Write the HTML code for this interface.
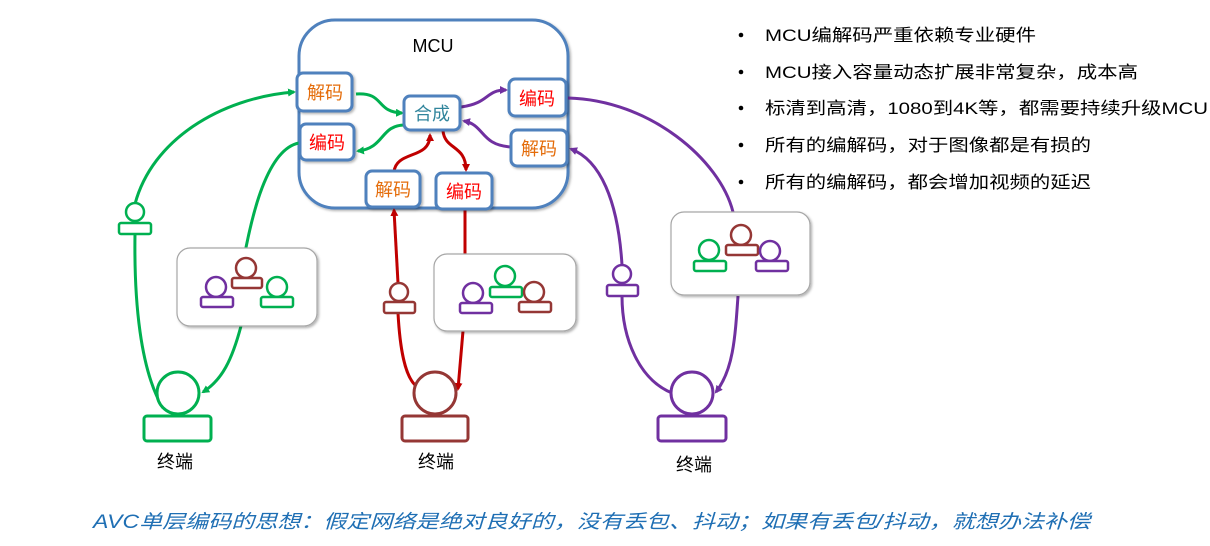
<!DOCTYPE html>
<html><head><meta charset="utf-8"><style>
html,body{margin:0;padding:0;background:#fff;}
svg{display:block;}
text{font-family:"Liberation Sans","Noto Sans CJK SC",sans-serif;}
</style></head><body>
<svg width="1210" height="546" viewBox="0 0 1210 546" xmlns="http://www.w3.org/2000/svg">
<defs>
<marker id="ag" markerWidth="8" markerHeight="8" refX="6" refY="4" orient="auto" markerUnits="userSpaceOnUse"><path d="M0,0 L8,4 L0,8 Z" fill="#00b050"/></marker>
<marker id="ar" markerWidth="8" markerHeight="8" refX="6" refY="4" orient="auto" markerUnits="userSpaceOnUse"><path d="M0,0 L8,4 L0,8 Z" fill="#c00000"/></marker>
<marker id="ap" markerWidth="8" markerHeight="8" refX="6" refY="4" orient="auto" markerUnits="userSpaceOnUse"><path d="M0,0 L8,4 L0,8 Z" fill="#7030a0"/></marker>
<filter id="sh" x="-10%" y="-10%" width="130%" height="130%"><feDropShadow dx="1.5" dy="1.5" stdDeviation="1.2" flood-opacity="0.3"/></filter>
</defs>

<rect x="299" y="20" width="269" height="188" rx="36" fill="#fff" stroke="#4f81bd" stroke-width="3" filter="url(#sh)"/>
<text x="433" y="52" font-size="18" text-anchor="middle" fill="#000">MCU</text>

<g fill="none" stroke="#00b050" stroke-width="3">
<path d="M163,408 C140,370 134,300 135,234"/>
<path d="M135,204 C152,140 220,98 294,92" marker-end="url(#ag)"/>
<path d="M299,143 C262,150 248,240 245,252"/>
<path d="M241,326 C232,360 222,380 203,392" marker-end="url(#ag)"/>
<path d="M356,94 C385,92 375,112 402,113" marker-end="url(#ag)"/>
<path d="M405,125 C380,125 385,148 358,151" marker-end="url(#ag)"/>
</g>
<g fill="none" stroke="#c00000" stroke-width="3">
<path d="M394,172 C396,150 430,160 430,135" marker-end="url(#ar)"/>
<path d="M443,131 C445,150 466,145 466,170" marker-end="url(#ar)"/>
<path d="M398,283 L394,210" marker-end="url(#ar)"/>
<path d="M398,313 C400,350 405,375 415,385"/>
<path d="M465,210 L465,254"/>
<path d="M463,331 L458,389" marker-end="url(#ar)"/>
</g>
<g fill="none" stroke="#7030a0" stroke-width="3">
<path d="M461,107 C490,103 485,90 506,90" marker-end="url(#ap)"/>
<path d="M511,147 C480,145 485,125 464,121" marker-end="url(#ap)"/>
<path d="M568,98 C650,100 720,160 733,212"/>
<path d="M738,296 C735,340 733,370 716,392" marker-end="url(#ap)"/>
<path d="M672,393 C640,380 622,340 622,296"/>
<path d="M622,265 C618,200 600,160 571,149" marker-end="url(#ap)"/>
</g>

<g stroke="#4f81bd" stroke-width="3" fill="#fff" filter="url(#sh)">
<rect x="297" y="73" width="55" height="38" rx="6"/>
<rect x="300" y="124" width="54" height="36" rx="6"/>
<rect x="404" y="96" width="56" height="34" rx="6"/>
<rect x="509" y="79" width="57" height="37" rx="6"/>
<rect x="511" y="130" width="56" height="36" rx="6"/>
<rect x="366" y="171" width="54" height="36" rx="6"/>
<rect x="436" y="173" width="56" height="36" rx="6"/>
</g>
<g font-size="18" text-anchor="middle">
<text x="325" y="99" fill="#e46c0a">解码</text>
<text x="327" y="149" fill="#ff0000">编码</text>
<text x="432" y="120" fill="#31859c">合成</text>
<text x="537" y="105" fill="#ff0000">编码</text>
<text x="539" y="155" fill="#e46c0a">解码</text>
<text x="393" y="196" fill="#e46c0a">解码</text>
<text x="464" y="198" fill="#ff0000">编码</text>
</g>

<g fill="#fff" stroke="#a6a6a6" stroke-width="1.2" filter="url(#sh)">
<rect x="177" y="248" width="140" height="78" rx="13"/>
<rect x="434" y="254" width="142" height="77" rx="13"/>
<rect x="671" y="212" width="139" height="83" rx="13"/>
</g>

<g fill="#fff" stroke-width="2.5">
<g stroke="#7030a0"><circle cx="216" cy="287" r="10"/><rect x="201" y="297" width="32" height="10" rx="2"/></g>
<g stroke="#953735"><circle cx="246" cy="268" r="10"/><rect x="232" y="278" width="30" height="10" rx="2"/></g>
<g stroke="#00b050"><circle cx="277" cy="287" r="10"/><rect x="261" y="297" width="32" height="10" rx="2"/></g>

<g stroke="#7030a0"><circle cx="473" cy="293" r="10"/><rect x="460" y="303" width="32" height="10" rx="2"/></g>
<g stroke="#00b050"><circle cx="505" cy="276" r="10"/><rect x="490" y="287" width="32" height="10" rx="2"/></g>
<g stroke="#953735"><circle cx="534" cy="292" r="10"/><rect x="519" y="302" width="32" height="10" rx="2"/></g>

<g stroke="#00b050"><circle cx="709" cy="250" r="10"/><rect x="694" y="261" width="32" height="10" rx="2"/></g>
<g stroke="#953735"><circle cx="741" cy="235" r="10"/><rect x="726" y="245" width="32" height="10" rx="2"/></g>
<g stroke="#7030a0"><circle cx="770" cy="251" r="10"/><rect x="756" y="261" width="32" height="10" rx="2"/></g>

<g stroke="#00b050"><circle cx="135" cy="212" r="9"/><rect x="119" y="223" width="32" height="11" rx="2"/></g>
<g stroke="#953735"><circle cx="399" cy="292" r="9"/><rect x="384" y="302" width="31" height="11" rx="2"/></g>
<g stroke="#7030a0"><circle cx="622" cy="274" r="9"/><rect x="607" y="285" width="31" height="11" rx="2"/></g>
</g>

<g fill="#fff" stroke-width="3">
<g stroke="#00b050"><circle cx="178" cy="393" r="21"/><rect x="144" y="416" width="67" height="25" rx="3"/></g>
<g stroke="#953735"><circle cx="435" cy="393" r="21"/><rect x="402" y="416" width="66" height="25" rx="3"/></g>
<g stroke="#7030a0"><circle cx="692" cy="393" r="21"/><rect x="658" y="416" width="68" height="25" rx="3"/></g>
</g>
<g font-size="18" text-anchor="middle" fill="#000">
<text x="175" y="468">终端</text>
<text x="436" y="468">终端</text>
<text x="694" y="471">终端</text>
</g>

<g font-size="17" fill="#000">
<circle cx="741" cy="35" r="2.3"/><text x="765" y="41" textLength="271" lengthAdjust="spacingAndGlyphs">MCU编解码严重依赖专业硬件</text>
<circle cx="741" cy="72" r="2.3"/><text x="765" y="78" textLength="373" lengthAdjust="spacingAndGlyphs">MCU接入容量动态扩展非常复杂，成本高</text>
<circle cx="741" cy="108" r="2.3"/><text x="765" y="114" textLength="443" lengthAdjust="spacingAndGlyphs">标清到高清，1080到4K等，都需要持续升级MCU</text>
<circle cx="741" cy="145" r="2.3"/><text x="765" y="151" textLength="326" lengthAdjust="spacingAndGlyphs">所有的编解码，对于图像都是有损的</text>
<circle cx="741" cy="182" r="2.3"/><text x="765" y="188" textLength="326" lengthAdjust="spacingAndGlyphs">所有的编解码，都会增加视频的延迟</text>
</g>

<text x="93" y="528" font-size="19" font-style="italic" fill="#1f6fb4" textLength="997" lengthAdjust="spacingAndGlyphs">AVC单层编码的思想：假定网络是绝对良好的，没有丢包、抖动；如果有丢包/抖动，就想办法补偿</text>
</svg>
</body></html>
